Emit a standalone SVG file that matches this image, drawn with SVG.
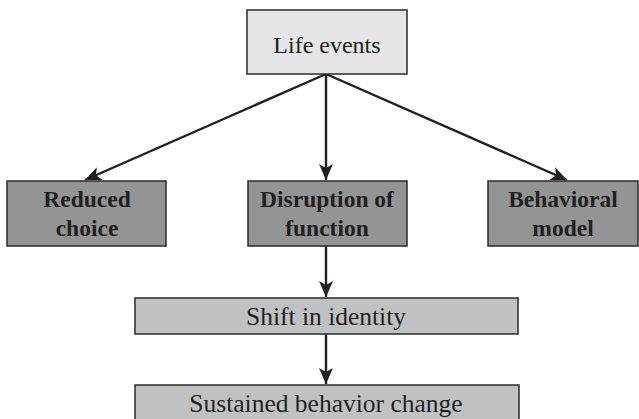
<svg xmlns="http://www.w3.org/2000/svg" width="639" height="419" viewBox="0 0 639 419">
  <style>
    .box { stroke: #2a2a2a; stroke-width: 1.5; }
    .top { fill: #e6e6e8; }
    .dark { fill: #939496; }
    .mid { fill: #c0c1c3; }
    text { font-family: "Liberation Serif", "Times New Roman", serif; fill: #231f20; text-anchor: middle; }
    .reg { font-size: 24px; }
    .wide { font-size: 25.5px; }
    .bold { font-size: 23.5px; font-weight: bold; }
    .edge { stroke: #231f20; stroke-width: 2.4; fill: none; marker-end: url(#head); }
  </style>
  <defs>
    <marker id="head" viewBox="0 0 16 14" refX="16" refY="7" markerWidth="16" markerHeight="14" markerUnits="userSpaceOnUse" orient="auto">
      <path d="M0,0 L16,7 L0,14 L4,7 Z" fill="#231f20"/>
    </marker>
  </defs>

  <g id="connectors">
    <line class="edge" x1="326" y1="74" x2="85" y2="180"/>
    <line class="edge" x1="326" y1="74" x2="326" y2="180"/>
    <line class="edge" x1="326" y1="74" x2="567" y2="180"/>
    <line class="edge" x1="326" y1="246" x2="326" y2="297"/>
    <line class="edge" x1="326" y1="334" x2="326" y2="384"/>
  </g>

  <g id="life-events">
    <rect class="box top" x="247" y="10" width="160" height="64"/>
    <text class="reg" x="327" y="53">Life events</text>
  </g>

  <g id="reduced-choice">
    <rect class="box dark" x="7" y="181" width="159" height="65"/>
    <text class="bold" x="87" y="207">Reduced</text>
    <text class="bold" x="87" y="236">choice</text>
  </g>

  <g id="disruption-of-function">
    <rect class="box dark" x="248" y="181" width="159" height="65"/>
    <text class="bold" x="327" y="207">Disruption of</text>
    <text class="bold" x="327" y="236">function</text>
  </g>

  <g id="behavioral-model">
    <rect class="box dark" x="488" y="181" width="150" height="65"/>
    <text class="bold" x="563" y="207">Behavioral</text>
    <text class="bold" x="563" y="236">model</text>
  </g>

  <g id="shift-in-identity">
    <rect class="box mid" x="135" y="298" width="383" height="36"/>
    <text class="wide" x="326" y="325">Shift in identity</text>
  </g>

  <g id="sustained-behavior-change">
    <rect class="box mid" x="135" y="385" width="384" height="40"/>
    <text class="wide" x="326" y="412">Sustained behavior change</text>
  </g>
</svg>
